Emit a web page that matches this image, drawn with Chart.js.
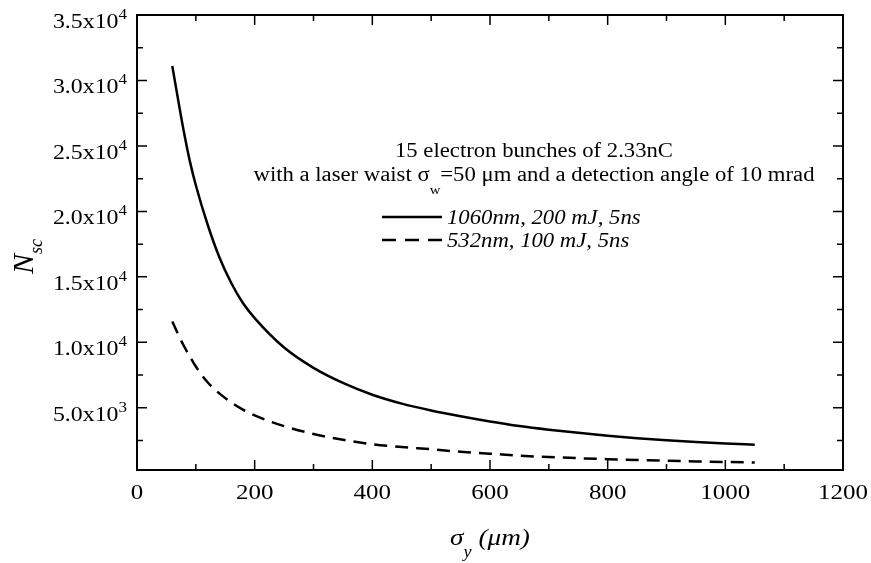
<!DOCTYPE html>
<html>
<head>
<meta charset="utf-8">
<script src="https://cdn.jsdelivr.net/npm/chart.js@4.4.1/dist/chart.umd.min.js"></script>
<style>
  body { margin: 0; background: #fff; }
  #wrap { width: 871px; height: 563px; }
</style>
</head>
<body>
<div id="wrap"><canvas id="myChart"></canvas></div>
<script>
// sigma_y in micrometres
var sigmaY = [60, 70, 80, 90, 100, 120, 140, 160, 180, 200, 250, 300, 350, 400, 450,
  500, 550, 600, 650, 700, 750, 800, 850, 900, 950, 1000, 1050];
// N_sc, 1060nm 200 mJ 5ns
var nsc1060 = [31100, 28500, 26000, 23800, 22000, 19000, 16500, 14550, 13000, 11850, 9600,
  8050, 6900, 6000, 5320, 4800, 4360, 3960, 3610, 3330, 3090, 2870, 2680, 2520, 2390, 2280, 2180];
// N_sc, 532nm 100 mJ 5ns
var nsc532 = [11600, 10600, 9700, 8900, 8150, 6950, 6100, 5420, 4860, 4420, 3600,
  3000, 2560, 2220, 2000, 1840, 1640, 1500, 1340, 1240, 1150, 1075, 1010, 955, 905, 860, 823];

var seriesNames = ["1060nm, 200 mJ, 5ns", "532nm, 100 mJ, 5ns"];
var yTicks = [5000, 10000, 15000, 20000, 25000, 30000, 35000];
var xTicks = [0, 200, 400, 600, 800, 1000, 1200];

var serif = "'Liberation Serif', 'Times New Roman', serif";
var HS = 1.135; // the original type is a bit wide

function pts(ys) {
  return sigmaY.map(function (x, i) { return { x: x, y: ys[i] }; });
}

function tw(ctx, t) { return ctx.measureText(t).width * HS; }

// draw stretched text from left x, alphabetic baseline y
function put(ctx, t, x, y) {
  ctx.save();
  ctx.translate(x, y);
  ctx.scale(HS, 1);
  ctx.fillText(t, 0, 0);
  ctx.restore();
  return ctx.measureText(t).width * HS;
}

// frame, inward ticks, labels, titles, annotation
var decor = {
  id: "decor",
  afterDraw: function (chart) {
    var ctx = chart.ctx;
    var a = chart.chartArea;
    var xs = chart.scales.x, ys = chart.scales.y;
    ctx.save();
    ctx.strokeStyle = "#000";
    ctx.fillStyle = "#000";
    ctx.textAlign = "left";
    ctx.textBaseline = "alphabetic";
    ctx.lineWidth = 2;
    ctx.strokeRect(a.left, a.top, a.right - a.left, a.bottom - a.top);

    ctx.lineWidth = 1.5;
    ctx.beginPath();
    for (var v = 100; v < 1200; v += 100) {
      var px = xs.getPixelForValue(v);
      var len = v % 200 === 0 ? 10 : 6;
      ctx.moveTo(px, a.bottom); ctx.lineTo(px, a.bottom - len);
      ctx.moveTo(px, a.top); ctx.lineTo(px, a.top + len);
    }
    for (var w = 2500; w < 35000; w += 2500) {
      var py = ys.getPixelForValue(w);
      var l2 = w % 5000 === 0 ? 10 : 6;
      ctx.moveTo(a.left, py); ctx.lineTo(a.left + l2, py);
      ctx.moveTo(a.right, py); ctx.lineTo(a.right - l2, py);
    }
    ctx.stroke();

    // x tick labels
    ctx.font = "22px " + serif;
    xTicks.forEach(function (t) {
      var s = String(t);
      put(ctx, s, xs.getPixelForValue(t) - tw(ctx, s) / 2, a.bottom + 29);
    });

    // y tick labels  m.mx10^e
    yTicks.forEach(function (t) {
      var e = Math.floor(Math.log10(t));
      var main = (t / Math.pow(10, e)).toFixed(1) + "x10";
      var sup = String(e);
      var py = ys.getPixelForValue(t);
      ctx.font = "15px " + serif;
      var sw = tw(ctx, sup);
      ctx.font = "21px " + serif;
      var mw = tw(ctx, main);
      var right = a.left - 10;
      put(ctx, main, right - sw - mw, py + 13);
      ctx.font = "15px " + serif;
      put(ctx, sup, right - sw, py + 4);
    });

    // x title
    var cx = (a.left + a.right) / 2;
    ctx.font = "italic 24px " + serif;
    var w1 = tw(ctx, "\u03c3");
    var w3 = tw(ctx, " (\u03bcm)");
    ctx.font = "italic 16px " + serif;
    var w2 = tw(ctx, "y");
    var x0 = cx - (w1 + w2 + w3) / 2;
    ctx.font = "italic 24px " + serif;
    put(ctx, "\u03c3", x0, 545);
    ctx.font = "italic 16px " + serif;
    put(ctx, "y", x0 + w1, 557);
    ctx.font = "italic 24px " + serif;
    put(ctx, " (\u03bcm)", x0 + w1 + w2, 545);

    // y title
    ctx.save();
    ctx.translate(33, (a.top + a.bottom) / 2 + 14);
    ctx.rotate(-Math.PI / 2);
    ctx.font = "italic 30px " + serif;
    var nw = ctx.measureText("N").width;
    ctx.font = "italic 18px " + serif;
    var scw = ctx.measureText("sc").width;
    var sx = -(nw + scw) / 2;
    ctx.font = "italic 30px " + serif;
    ctx.fillText("N", sx, 0);
    ctx.font = "italic 18px " + serif;
    ctx.fillText("sc", sx + nw, 9);
    ctx.restore();

    // annotation
    var ac = 534;
    ctx.font = "20px " + serif;
    var l1 = "15 electron bunches of 2.33nC";
    put(ctx, l1, ac - tw(ctx, l1) / 2, 157);
    var p1 = "with a laser waist \u03c3", p2 = "w", p3 = "=50 \u03bcm and a detection angle of 10 mrad";
    var q1 = tw(ctx, p1), q3 = tw(ctx, p3);
    ctx.font = "13px " + serif;
    var q2 = tw(ctx, p2);
    var lx = ac - (q1 + q2 + q3) / 2;
    ctx.font = "20px " + serif;
    put(ctx, p1, lx, 181);
    ctx.font = "13px " + serif;
    put(ctx, p2, lx + q1, 194);
    ctx.font = "20px " + serif;
    put(ctx, p3, lx + q1 + q2, 181);

    // legend
    var ds = chart.data.datasets;
    var rows = [217, 240];
    ds.forEach(function (d, i) {
      ctx.lineWidth = d.borderWidth;
      ctx.setLineDash(i === 1 ? [14, 9] : []);
      ctx.beginPath();
      ctx.moveTo(382, rows[i]);
      ctx.lineTo(442, rows[i]);
      ctx.stroke();
      ctx.setLineDash([]);
      ctx.font = "italic 20px " + serif;
      put(ctx, d.label, 447, rows[i] + 7);
    });
    ctx.restore();
  }
};

var ctx = document.getElementById("myChart").getContext("2d");
var myChart = new Chart(ctx, {
  type: "line",
  data: {
    datasets: [
      {
        label: seriesNames[0],
        data: pts(nsc1060),
        borderColor: "#000",
        borderWidth: 2.5,
        pointRadius: 0,
        cubicInterpolationMode: "monotone",
        fill: false,
      },
      {
        label: seriesNames[1],
        data: pts(nsc532),
        borderColor: "#000",
        borderWidth: 2.5,
        borderDash: [13, 8],
        pointRadius: 0,
        cubicInterpolationMode: "monotone",
        fill: false,
      },
    ],
  },
  options: {
    responsive: true,
    maintainAspectRatio: false,
    animation: false,
    layout: { padding: { left: 0, right: 28, top: 15, bottom: 0 } },
    plugins: { legend: { display: false }, tooltip: { enabled: false } },
    scales: {
      x: {
        type: "linear",
        min: 0,
        max: 1200,
        afterFit: function (s) { s.height = 93; },
        grid: { display: false, drawTicks: false },
        border: { display: false },
        ticks: { display: false },
      },
      y: {
        type: "linear",
        min: 250,
        max: 35000,
        afterFit: function (s) { s.width = 137; },
        grid: { display: false, drawTicks: false },
        border: { display: false },
        ticks: { display: false },
      },
    },
  },
  plugins: [decor],
});
</script>
</body>
</html>
